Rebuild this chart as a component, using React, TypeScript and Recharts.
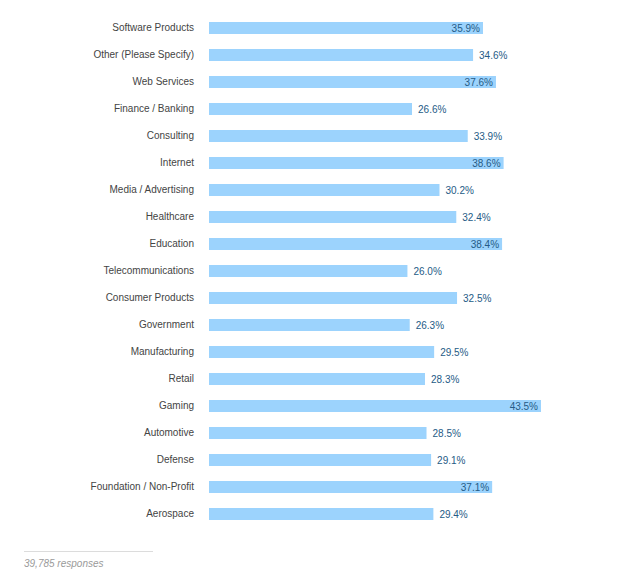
import React from "react";
import { BarChart, Bar, XAxis, YAxis, LabelList } from "recharts";

const categories = [
  "Software Products",
  "Other (Please Specify)",
  "Web Services",
  "Finance / Banking",
  "Consulting",
  "Internet",
  "Media / Advertising",
  "Healthcare",
  "Education",
  "Telecommunications",
  "Consumer Products",
  "Government",
  "Manufacturing",
  "Retail",
  "Gaming",
  "Automotive",
  "Defense",
  "Foundation / Non-Profit",
  "Aerospace",
];

const values = [
  35.9, 34.6, 37.6, 26.6, 33.9, 38.6, 30.2, 32.4, 38.4, 26.0, 32.5, 26.3, 29.5,
  28.3, 43.5, 28.5, 29.1, 37.1, 29.4,
];

const responsesNote = "39,785 responses";

const data = categories.map((name, i) => ({ name, value: values[i] }));

const FONT = "'Liberation Sans', Arial, Helvetica, sans-serif";

const ValueLabel = (props: any) => {
  const { x, y, width, height, value } = props;
  const inside = value > 35;
  const tx = inside ? x + width - 3 : x + width + 6;
  return (
    <text
      x={tx}
      y={y + height / 2}
      dy="0.36em"
      textAnchor={inside ? "end" : "start"}
      fontSize={10}
      fontFamily={FONT}
      fill="#255b86"
    >
      {value.toFixed(1)}%
    </text>
  );
};

export default function App() {
  return (
    <div style={{ position: "relative", width: 632, height: 567, fontFamily: FONT }}>
      <BarChart
        width={632}
        height={531}
        data={data}
        layout="vertical"
        margin={{ top: 6, right: 99, bottom: 12, left: 0 }}
        barSize={12}
      >
        <XAxis type="number" domain={[0, 43.5]} hide />
        <YAxis
          type="category"
          dataKey="name"
          width={201}
          tickSize={0}
          tickMargin={15}
          axisLine={false}
          tickLine={false}
          interval={0}
          tick={{ fontSize: 10, fill: "#444444", fontFamily: FONT }}
        />
        <Bar dataKey="value" fill="#9cd3fd" isAnimationActive={false}>
          <LabelList dataKey="value" content={<ValueLabel />} />
        </Bar>
      </BarChart>
      <div
        style={{
          position: "absolute",
          left: 16,
          top: 543,
          width: 129,
          borderTop: "1px solid #dcdcdc",
        }}
      />
      <div
        style={{
          position: "absolute",
          left: 16,
          top: 550,
          fontSize: 10,
          fontStyle: "italic",
          color: "#9a9a9a",
        }}
      >
        {responsesNote}
      </div>
    </div>
  );
}
